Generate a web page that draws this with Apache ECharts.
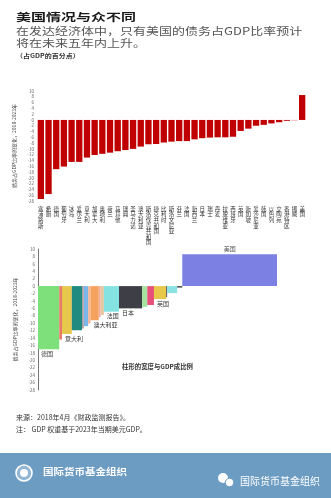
<!DOCTYPE html>
<html><head><meta charset="utf-8">
<script src="https://cdn.jsdelivr.net/npm/echarts@6/dist/echarts.min.js"></script>
<style>html,body{margin:0;padding:0;background:#fff}#c{width:331px;height:498px}</style>
</head><body><div id="c"></div>
<script>
// ---- data ----
const topCategories = ['塞浦路斯','希腊','德国','葡萄牙','冰岛','爱尔兰','意大利','加拿大','奥地利','荷兰','马耳他','瑞典','圣马力诺','澳大利亚','斯洛伐克共和国','捷克共和国','比利时','斯洛文尼亚','芬兰','法国','新西兰','日本','瑞士','丹麦','拉脱维亚','西班牙','英国','新加坡','爱沙尼亚','韩国','以色列','立陶宛','香港特区','挪威','美国'];
const topValues = [-27.3,-25.6,-17.0,-16.1,-14.5,-14.5,-13.0,-12.1,-11.7,-11.3,-10.8,-10.4,-10.0,-9.2,-8.4,-8.3,-7.8,-7.5,-7.3,-7.3,-6.7,-6.3,-6.1,-6.0,-6.0,-5.8,-3.8,-3.0,-2.0,-1.7,-1.2,-0.8,-0.3,-0.1,8.6];

const bottomCountries = ['德国','爱尔兰','意大利','加拿大','奥地利','荷兰','瑞典','澳大利亚','捷克共和国','比利时','法国','日本','瑞士','西班牙','英国','新加坡','韩国','挪威','美国'];
const bottomGdp = [5.4,0.7,2.5,2.6,0.45,1.1,0.6,2.1,0.45,0.85,3.85,5.9,1.3,1.7,3.1,0.25,2.55,1.3,24.1];
const bottomValues = [-17.0,-14.4,-12.9,-11.9,-11.4,-10.8,-10.1,-9.2,-8.4,-7.8,-6.9,-6.0,-5.6,-5.1,-3.5,-3.0,-1.9,-0.4,8.6];
const bottomLabelled = ['德国','意大利','澳大利亚','法国','日本','英国','美国'];

// ---- styles ----
const bottomPalette = ['#7ee07a','#e87a6a','#e8c84c','#1e8a80','#b09aa0','#7ab6ea','#f2b49a','#f4a25e','#f0a898','#e6c6a0','#84e2e0','#3e3e46','#a4e2a0','#e8507a','#e8c84a','#555555','#8ae2e2','#444444','#7b80e2'];
const FONT = '"Noto Sans CJK SC", "Noto Sans", sans-serif';

// cumulative positions
let acc = 0;
const bottomData = bottomGdp.map((w, i) => { const s = acc; acc += w; return [s, acc, bottomValues[i], i]; });
const gdpTotal = acc;

const chart = echarts.init(document.getElementById('c'), null, {renderer: 'canvas'});

const yAxisCommon = {
  type: 'value', min: -28, max: 10, interval: 2,
  splitLine: {show: false}, axisTick: {show: false},
  axisLabel: {fontSize: 4.5, color: '#666', margin: 3, fontFamily: FONT},
  name: '债务占GDP比率的变化，2018-2023年', nameLocation: 'middle', nameRotate: 90,
  nameGap: 11, nameTextStyle: {fontSize: 5, color: '#444', fontFamily: FONT}
};

const option = {
  animation: false,
  backgroundColor: '#fff',
  textStyle: {fontFamily: FONT},
  grid: [
    {left: 37, right: 25, top: 91, height: 110},
    {left: 38, width: 239, top: 249, height: 141}
  ],
  xAxis: [
    {gridIndex: 0, type: 'category', data: topCategories,
     axisLine: {show: false, onZero: false}, axisTick: {show: false},
     axisLabel: {interval: 0, fontSize: 5.5, lineHeight: 5.6, color: '#333', margin: 5,
       fontFamily: FONT, formatter: s => s.split('').join('\n')}},
    {gridIndex: 1, type: 'value', min: 0, max: gdpTotal, show: false}
  ],
  yAxis: [
    Object.assign({gridIndex: 0}, yAxisCommon, {axisLine: {show: false}}),
    Object.assign({gridIndex: 1}, yAxisCommon, {axisLine: {show: true, onZero: false, lineStyle: {color: '#777', width: 1}}})
  ],
  series: [
    {type: 'bar', xAxisIndex: 0, yAxisIndex: 0, data: topValues, barCategoryGap: '18%',
     itemStyle: {color: '#c00000'}},
    {type: 'custom', xAxisIndex: 1, yAxisIndex: 1, data: bottomData,
     encode: {x: [0, 1], y: 2},
     renderItem: function (params, api) {
       const i = api.value(3);
       const p0 = api.coord([api.value(0), 0]);
       const p1 = api.coord([api.value(1), api.value(2)]);
       const children = [{
         type: 'rect',
         shape: {x: p0[0], y: Math.min(p0[1], p1[1]), width: p1[0] - p0[0], height: Math.abs(p1[1] - p0[1])},
         style: {fill: bottomPalette[i]}
       }];
       const name = bottomCountries[i];
       if (bottomLabelled.indexOf(name) >= 0) {
         const v = api.value(2);
         if (v >= 0) {
           children.push({type: 'text', style: {text: name, x: (p0[0] + p1[0]) / 2, y: p1[1] - 2,
             align: 'center', verticalAlign: 'bottom', fontSize: 6, fill: '#555', fontFamily: FONT}});
         } else {
           children.push({type: 'text', style: {text: name, x: p0[0] + 3, y: p1[1] + 1.5,
             align: 'left', verticalAlign: 'top', fontSize: 6, fill: '#333', fontFamily: FONT}});
         }
       }
       return {type: 'group', children: children};
     }}
  ],
  graphic: [
    {type: 'text', x: 16, y: 11, scaleY: 0.72, style: {text: '美国情况与众不同', fontSize: 15, fontWeight: 'bold', fill: '#1a1a1a', fontFamily: FONT, verticalAlign: 'top'}},
    {type: 'text', x: 16, y: 26, scaleY: 0.82, style: {text: '在发达经济体中，只有美国的债务占GDP比率预计', fontSize: 13, fill: '#555', fontFamily: FONT, verticalAlign: 'top'}},
    {type: 'text', x: 16, y: 37.5, scaleY: 0.82, style: {text: '将在未来五年内上升。', fontSize: 13, fill: '#555', fontFamily: FONT, verticalAlign: 'top'}},
    {type: 'text', x: 16, y: 53, scaleY: 0.85, style: {text: '（占GDP的百分点）', fontSize: 7, fontWeight: 'bold', fill: '#333', fontFamily: FONT, verticalAlign: 'top'}},
    {type: 'text', x: 122, y: 363.5, style: {text: '柱形的宽度与GDP成比例', fontSize: 6.4, fontWeight: 'bold', fill: '#333', fontFamily: FONT, verticalAlign: 'top'}},
    {type: 'text', x: 16, y: 414, style: {text: '来源：2018年4月《财政监测报告》。', fontSize: 7, fill: '#333', fontFamily: FONT, verticalAlign: 'top'}},
    {type: 'text', x: 16, y: 426, style: {text: '注： GDP 权重基于2023年当期美元GDP。', fontSize: 7, fill: '#333', fontFamily: FONT, verticalAlign: 'top'}},
    {type: 'rect', shape: {x: 0, y: 453, width: 331, height: 45}, style: {fill: '#6d9cc3'}},
    {type: 'circle', shape: {cx: 24, cy: 473, r: 8}, style: {fill: 'rgba(255,255,255,0.25)', stroke: '#fff', lineWidth: 1.6}},
    {type: 'circle', shape: {cx: 24, cy: 473, r: 4}, style: {fill: '#fff'}},
    {type: 'text', x: 43, y: 467, scaleY: 0.85, style: {text: '国际货币基金组织', fontSize: 10.5, fontWeight: 'bold', fill: '#fff', fontFamily: FONT, verticalAlign: 'top'}},
    {type: 'circle', shape: {cx: 223, cy: 478, r: 5}, style: {fill: '#fff'}},
    {type: 'circle', shape: {cx: 229.5, cy: 482.5, r: 4.2}, style: {fill: '#fff', stroke: '#6d9cc3', lineWidth: 1}},
    {type: 'text', x: 240, y: 476, style: {text: '国际货币基金组织', fontSize: 10, fill: '#fff', fontFamily: FONT, verticalAlign: 'top'}}
  ]
};
chart.setOption(option);
</script>
</body></html>
